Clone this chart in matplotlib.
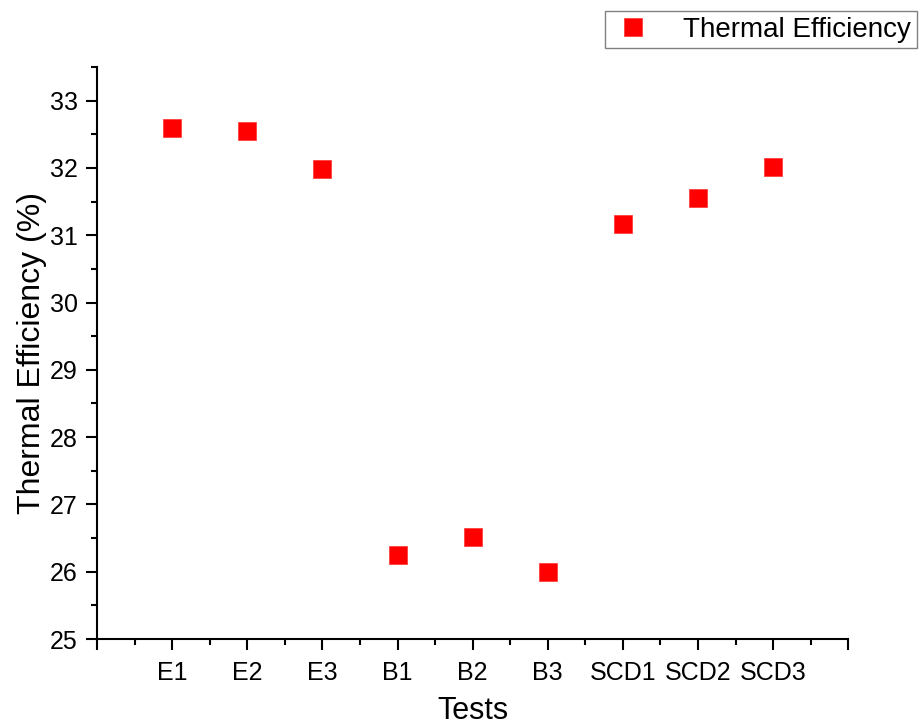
import matplotlib.pyplot as plt
from matplotlib.ticker import MultipleLocator

plt.rcParams['font.family'] = ['Liberation Sans', 'DejaVu Sans']

# test names and measured thermal efficiency
tests = ['E1', 'E2', 'E3', 'B1', 'B2', 'B3', 'SCD1', 'SCD2', 'SCD3']
efficiency = [32.60, 32.55, 31.99, 26.25, 26.52, 25.99, 31.16, 31.56, 32.02]

fig = plt.figure(figsize=(9.24, 7.25), dpi=100)
ax = fig.add_axes([0.105, 0.1186, 0.813, 0.789])

positions = list(range(1, len(tests) + 1))
ax.plot(positions, efficiency, linestyle='none', marker='s', markersize=12.5,
        color='#ff0000', markeredgecolor='#ff4040', markeredgewidth=0.6,
        label='Thermal Efficiency')

ax.set_xlim(0, 10)
ax.set_ylim(25, 33.5)
ax.set_xticks(range(0, 11))
ax.set_xticklabels([''] + tests + [''])
ax.xaxis.set_minor_locator(MultipleLocator(0.5))
ax.yaxis.set_major_locator(MultipleLocator(1))
ax.yaxis.set_minor_locator(MultipleLocator(0.5))

for side in ['top', 'right']:
    ax.spines[side].set_visible(False)
for side in ['left', 'bottom']:
    ax.spines[side].set_linewidth(1.5)

ax.tick_params(which='major', direction='out', length=8, width=1.5, labelsize=18)
ax.tick_params(which='minor', direction='out', length=4.5, width=1.5)
ax.tick_params(axis='x', which='major', pad=8)
ax.tick_params(axis='y', which='major', pad=6)

ax.set_xlabel('Tests', fontsize=22, labelpad=8)
ax.set_ylabel('Thermal Efficiency (%)', fontsize=23, labelpad=2)

leg = fig.legend(loc='upper right', bbox_to_anchor=(1.007, 1.004), fontsize=20,
                 fancybox=False, edgecolor='#808080', framealpha=1,
                 handletextpad=1.0, borderpad=0.2, handlelength=1.6)
leg.get_frame().set_linewidth(1.0)

plt.savefig('out.png', dpi=100)
